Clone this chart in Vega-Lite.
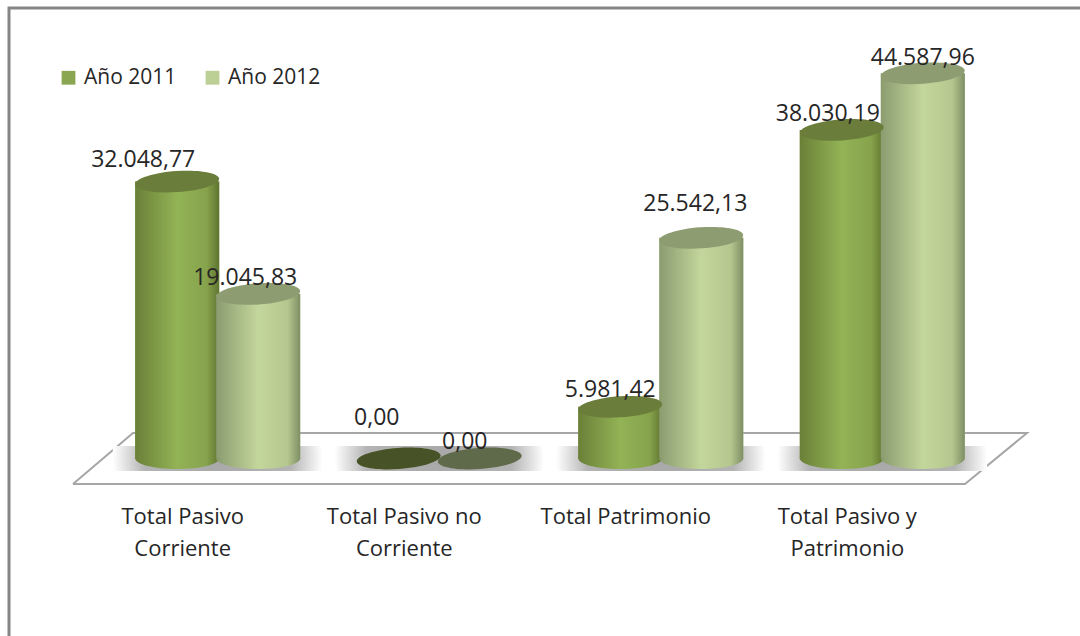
{"$schema":"https://vega.github.io/schema/vega-lite/v6.json","width":1080,"height":636,"padding":0,"autosize":{"type":"none"},"background":"white","config":{"view":{"stroke":null},"font":"Open Sans","text":{"font":"Open Sans"}},
"datasets":{"barras":[
{"cat":"Total Pasivo Corriente","serie":"Año 2011","valor":32048.77,"etiqueta":"32.048,77"},
{"cat":"Total Pasivo Corriente","serie":"Año 2012","valor":19045.83,"etiqueta":"19.045,83"},
{"cat":"Total Pasivo no Corriente","serie":"Año 2011","valor":0,"etiqueta":"0,00"},
{"cat":"Total Pasivo no Corriente","serie":"Año 2012","valor":0,"etiqueta":"0,00"},
{"cat":"Total Patrimonio","serie":"Año 2011","valor":5981.42,"etiqueta":"5.981,42"},
{"cat":"Total Patrimonio","serie":"Año 2012","valor":25542.13,"etiqueta":"25.542,13"},
{"cat":"Total Pasivo y Patrimonio","serie":"Año 2011","valor":38030.19,"etiqueta":"38.030,19"},
{"cat":"Total Pasivo y Patrimonio","serie":"Año 2012","valor":44587.96,"etiqueta":"44.587,96"}],
"guias":[
{"linea":"marco","o":1,"h":9,"v":640},{"linea":"marco","o":2,"h":9,"v":8},{"linea":"marco","o":3,"h":1084,"v":8},
{"linea":"piso","o":1,"h":73,"v":484},{"linea":"piso","o":2,"h":133,"v":433},{"linea":"piso","o":3,"h":1027,"v":433},{"linea":"piso","o":4,"h":965,"v":484},{"linea":"piso","o":5,"h":73,"v":484}]},
"resolve":{"scale":{"x":"independent","y":"independent"}},
"layer":[
{"data":{"name":"guias"},"layer":[
{"transform":[{"filter":"datum.linea=='marco'"}],"mark":{"type":"line","stroke":"#868686","strokeWidth":3,"clip":false},"encoding":{"x":{"field":"h","type":"quantitative","scale":{"domain":[0,1080],"nice":false},"axis":null},"y":{"field":"v","type":"quantitative","scale":{"domain":[636,0],"nice":false,"zero":false},"axis":null},"order":{"field":"o"}}},
{"transform":[{"filter":"datum.linea=='piso'"}],"mark":{"type":"line","stroke":"#a6a6a6","strokeWidth":2},"encoding":{"x":{"field":"h","type":"quantitative","scale":{"domain":[0,1080],"nice":false},"axis":null},"y":{"field":"v","type":"quantitative","scale":{"domain":[636,0],"nice":false,"zero":false},"axis":null},"order":{"field":"o"}}}
]},
{"data":{"name":"barras"},
"encoding":{
"x":{"field":"cat","type":"nominal","sort":null,"title":null,"scale":{"paddingInner":0.2686,"paddingOuter":0.134,"range":[107,993]},"axis":{"domain":false,"ticks":false,"labelAngle":0,"labelPadding":0,"offset":-130,"labelOffset":-35,"labelFontSize":22,"labelColor":"#262626","labelFont":"Open Sans","labelLineHeight":32,"labelLimit":300,"labelExpr":"{'Total Pasivo Corriente':['Total Pasivo','Corriente'],'Total Pasivo no Corriente':['Total Pasivo no','Corriente'],'Total Patrimonio':['Total Patrimonio'],'Total Pasivo y Patrimonio':['Total Pasivo y','Patrimonio']}[datum.value]"}},
"xOffset":{"field":"serie","type":"nominal","sort":null},
"y":{"field":"valor","type":"quantitative","title":null,"scale":{"domain":[-20544,53067],"nice":false,"zero":false},"axis":null}},
"layer":[
{"transform":[{"filter":"datum.serie=='Año 2011'"}],"mark":{"type":"point","filled":true,"opacity":1,"shape":"M-1,-0.12L1,-0.12L1,0.12L-1,0.12Z","size":44000,"fill":{"gradient":"radial","x1":0.5,"y1":0.5,"r1":0,"x2":0.5,"y2":0.5,"r2":0.5,"stops":[{"offset":0,"color":"#a8a8a8"},{"offset":0.7,"color":"#b4b4b4"},{"offset":1,"color":"#ffffff"}]}},"encoding":{"xOffset":{"value":81},"y":{"datum":0}}},
{"mark":{"type":"bar","width":84},"encoding":{"y2":{"datum":0},"color":{"field":"serie","type":"nominal","sort":null,"scale":{"domain":["Año 2011","Año 2012"],"range":["#8aa650","#bccf94"]},"legend":{"title":null,"orient":"none","legendX":58,"legendY":67,"direction":"horizontal","symbolType":"square","symbolSize":190,"symbolStrokeWidth":0,"labelFontSize":21,"labelColor":"#262626","labelFont":"Open Sans","columnPadding":25,"labelOffset":5}}}},
{"transform":[{"filter":"datum.serie=='Año 2011' && datum.valor>0"}],"mark":{"type":"point","filled":true,"opacity":1,"shape":"M-1,0A1,0.25,0,1,1,1,0A1,0.25,0,1,1,-1,0Z","size":7056,"fill":{"x1":0,"x2":1,"y1":0,"y2":0,"gradient":"linear","stops":[{"offset":0,"color":"#6a8038"},{"offset":0.5,"color":"#93b356"},{"offset":0.85,"color":"#86a34c"},{"offset":1,"color":"#5f7430"}]}},"encoding":{"y":{"datum":0}}},
{"transform":[{"filter":"datum.serie=='Año 2012' && datum.valor>0"}],"mark":{"type":"point","filled":true,"opacity":1,"shape":"M-1,0A1,0.25,0,1,1,1,0A1,0.25,0,1,1,-1,0Z","size":7056,"fill":{"x1":0,"x2":1,"y1":0,"y2":0,"gradient":"linear","stops":[{"offset":0,"color":"#8b9c70"},{"offset":0.5,"color":"#c3d69b"},{"offset":0.85,"color":"#b5c78e"},{"offset":1,"color":"#7f8f65"}]}},"encoding":{"y":{"datum":0}}},
{"transform":[{"filter":"datum.serie=='Año 2011' && datum.valor>0"}],"mark":{"type":"bar","width":84,"fill":{"x1":0,"x2":1,"y1":0,"y2":0,"gradient":"linear","stops":[{"offset":0,"color":"#6a8038"},{"offset":0.5,"color":"#93b356"},{"offset":0.85,"color":"#86a34c"},{"offset":1,"color":"#5f7430"}]}},"encoding":{"y2":{"datum":0}}},
{"transform":[{"filter":"datum.serie=='Año 2012' && datum.valor>0"}],"mark":{"type":"bar","width":84,"fill":{"x1":0,"x2":1,"y1":0,"y2":0,"gradient":"linear","stops":[{"offset":0,"color":"#8b9c70"},{"offset":0.5,"color":"#c3d69b"},{"offset":0.85,"color":"#b5c78e"},{"offset":1,"color":"#7f8f65"}]}},"encoding":{"y2":{"datum":0}}},
{"mark":{"type":"point","filled":true,"opacity":1,"shape":"M-1,0A1,0.25,0,1,1,1,0A1,0.25,0,1,1,-1,0Z","size":7056,"angle":-4},"encoding":{"fill":{"condition":[{"test":"datum.valor==0 && datum.serie=='Año 2011'","value":"#475326"},{"test":"datum.valor==0","value":"#5e6a4a"},{"test":"datum.serie=='Año 2011'","value":"#6a7d3b"}],"value":"#8e9c72"}}},
{"transform":[{"filter":"datum.etiqueta=='32.048,77'"}],"mark":{"type":"text","fontSize":23,"color":"#262626","dx":-34,"dy":-22},"encoding":{"text":{"field":"etiqueta"}}},
{"transform":[{"filter":"datum.etiqueta=='19.045,83'"}],"mark":{"type":"text","fontSize":23,"color":"#262626","dx":-13,"dy":-16},"encoding":{"text":{"field":"etiqueta"}}},
{"transform":[{"filter":"datum.etiqueta=='0,00' && datum.serie=='Año 2011'"}],"mark":{"type":"text","fontSize":23,"color":"#262626","dx":-22,"dy":-40},"encoding":{"text":{"field":"etiqueta"}}},
{"transform":[{"filter":"datum.etiqueta=='0,00' && datum.serie=='Año 2012'"}],"mark":{"type":"text","fontSize":23,"color":"#262626","dx":-15,"dy":-16},"encoding":{"text":{"field":"etiqueta"}}},
{"transform":[{"filter":"datum.etiqueta=='5.981,42'"}],"mark":{"type":"text","fontSize":23,"color":"#262626","dx":-10,"dy":-17},"encoding":{"text":{"field":"etiqueta"}}},
{"transform":[{"filter":"datum.etiqueta=='25.542,13'"}],"mark":{"type":"text","fontSize":23,"color":"#262626","dx":-6,"dy":-34},"encoding":{"text":{"field":"etiqueta"}}},
{"transform":[{"filter":"datum.etiqueta=='38.030,19'"}],"mark":{"type":"text","fontSize":23,"color":"#262626","dx":-14,"dy":-16},"encoding":{"text":{"field":"etiqueta"}}},
{"transform":[{"filter":"datum.etiqueta=='44.587,96'"}],"mark":{"type":"text","fontSize":23,"color":"#262626","dx":0,"dy":-15},"encoding":{"text":{"field":"etiqueta"}}}
]}
]}
